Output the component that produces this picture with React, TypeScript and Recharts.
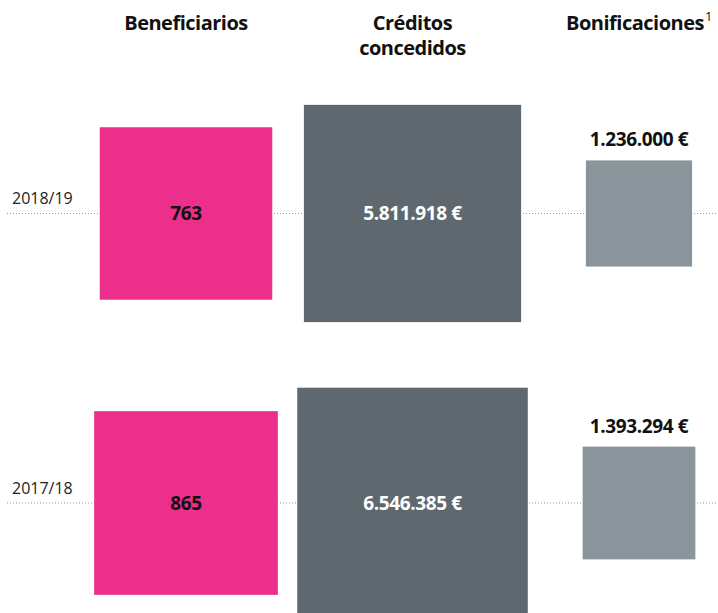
import { ScatterChart, Scatter, XAxis, YAxis, ZAxis, ReferenceLine } from 'recharts'

const columns = ['Beneficiarios', 'Créditos|concedidos', 'Bonificaciones']
const footnotes = ['', '', '1']
const years = ['2017/18', '2018/19']
const beneficiarios = [865, 763]
const creditos = [6546385, 5811918]
const bonificaciones = [1393294, 1236000]

const FONT = '"Open Sans", sans-serif'

const fmt = (v: number) => String(v).replace(/\B(?=(\d{3})+(?!\d))/g, '.')

const toPoints = (values: number[], col: number, euro: boolean) =>
  values.map((v, i) => ({ col, row: i, value: v, label: fmt(v) + (euro ? ' €' : '') }))

const makeSquare = (color: string, textColor: string, labelAbove: boolean) => (props: any) => {
  const { cx, cy, size, payload } = props
  const side = Math.sqrt(size)
  const top = cy - side / 2
  return (
    <g>
      <rect x={cx - side / 2} y={top} width={side} height={side} fill={color} />
      <text
        x={cx}
        y={labelAbove ? top - 14 : cy}
        dy={labelAbove ? 0 : '0.35em'}
        textAnchor="middle"
        fill={textColor}
        fontFamily={FONT}
        fontWeight={700}
        fontSize={19}
        letterSpacing={-0.4}
      >
        {payload.label}
      </text>
    </g>
  )
}

const HeaderTick = (props: any) => {
  const { x, payload } = props
  const lines = columns[payload.value].split('|')
  const note = footnotes[payload.value]
  return (
    <text x={x} y={30} textAnchor="middle" fill="#111" fontFamily={FONT} fontWeight={700} fontSize={20} letterSpacing={-0.5}>
      {lines.map((l, i) => (
        <tspan key={i} x={x} dy={i === 0 ? 0 : 25}>
          {l}
          {i === lines.length - 1 && note ? (
            <tspan fontSize={13} fontWeight={400} dx={1} dy={-9}>{note}</tspan>
          ) : null}
        </tspan>
      ))}
    </text>
  )
}

const YearTick = (props: any) => {
  const { y, payload } = props
  return (
    <text x={12} y={y - 9} fill="#222" fontFamily={FONT} fontSize={16}>
      {years[payload.value]}
    </text>
  )
}

export default function App() {
  return (
    <div style={{ position: 'absolute', left: 0, top: 0 }}>
      <ScatterChart width={718} height={613} margin={{ top: 0, right: 0, bottom: 0, left: 6 }}>
        <XAxis
          xAxisId={0}
          type="number"
          dataKey="col"
          orientation="top"
          domain={[-0.7903, 2.3488]}
          allowDataOverflow
          ticks={[0, 1, 2]}
          interval={0}
          height={1}
          axisLine={false}
          tickLine={false}
          tick={<HeaderTick />}
        />
        <YAxis
          type="number"
          dataKey="row"
          domain={[-0.38, 1.734]}
          allowDataOverflow
          ticks={[0, 1]}
          interval={0}
          width={1}
          axisLine={false}
          tickLine={false}
          tick={<YearTick />}
        />
        <ZAxis zAxisId="b" type="number" dataKey="value" domain={[0, 1000]} range={[0, 39000]} />
        <ZAxis zAxisId="c" type="number" dataKey="value" domain={[0, 10000000]} range={[0, 81200]} />
        <ZAxis zAxisId="f" type="number" dataKey="value" domain={[0, 10000000]} range={[0, 91200]} />
        {[0, 1].map(r => (
          <ReferenceLine key={r} y={r} stroke="#999" strokeDasharray="1 2" />
        ))}
        <Scatter
          data={toPoints(beneficiarios, 0, false)}
          zAxisId="b"
          isAnimationActive={false}
          shape={makeSquare('#ec2f8b', '#111', false)}
        />
        <Scatter
          data={toPoints(creditos, 1, true)}
          zAxisId="c"
          isAnimationActive={false}
          shape={makeSquare('#5e686e', '#fff', false)}
        />
        <Scatter
          data={toPoints(bonificaciones, 2, true)}
          zAxisId="f"
          isAnimationActive={false}
          shape={makeSquare('#8a959b', '#111', true)}
        />
      </ScatterChart>
    </div>
  )
}
